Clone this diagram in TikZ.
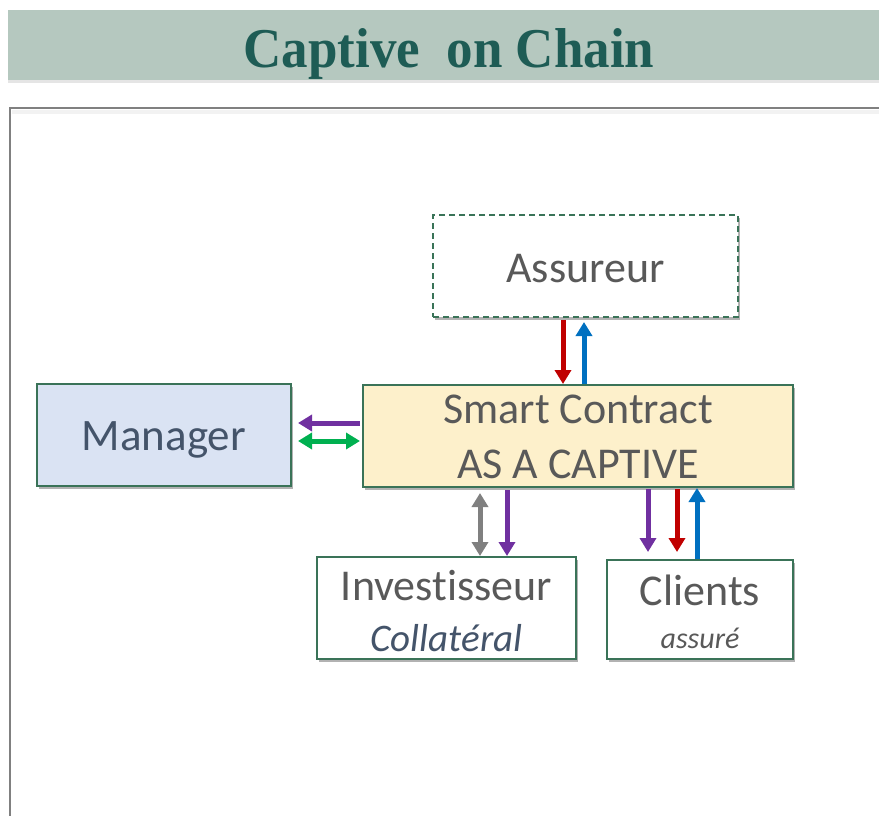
\documentclass[tikz,border=0pt]{standalone}
\usepackage{fontspec}
\setmainfont{Carlito}[Ligatures=CommonOff]
\newfontfamily\titlefont{Liberation Serif}
\usetikzlibrary{arrows.meta,shadows,calc}
\definecolor{band}{HTML}{B5C8BF}
\definecolor{titlec}{HTML}{1E5C55}
\definecolor{boxline}{HTML}{3A7358}
\definecolor{mgrfill}{HTML}{DAE3F3}
\definecolor{scfill}{HTML}{FDF0CB}
\definecolor{txtgray}{HTML}{595959}
\definecolor{txtblue}{HTML}{44546A}
\definecolor{cpurple}{HTML}{7030A0}
\definecolor{cgreen}{HTML}{00B050}
\definecolor{cred}{HTML}{C00000}
\definecolor{cblue}{HTML}{0070C0}
\definecolor{cgray}{HTML}{808080}
\tikzset{
  box/.style={draw=boxline, line width=2pt, fill=white, inner sep=0pt,
    drop shadow={shadow xshift=2pt, shadow yshift=-3pt, opacity=0.3, fill=black}},
  lbl/.style={anchor=base, text=txtgray, inner sep=0pt},
  arr/.style={line width=5pt, -{Triangle[length=14pt,width=16pt]}},
  arrboth/.style={line width=5pt, {Triangle[length=14pt,width=16pt]}-{Triangle[length=14pt,width=16pt]}},
}
\begin{document}
\begin{tikzpicture}[x=1pt,y=-1pt]
\useasboundingbox (0,0) rectangle (879,816);
\clip (0,0) rectangle (879,816);
% title band
\fill[black!10] (8,80) rectangle (890,83);
\fill[band] (8,10) rectangle (890,80);
\node[anchor=base, inner sep=0pt, text=titlec, font=\titlefont\bfseries\fontsize{53}{60}\selectfont] (title) at (449,67) {\scalebox{1}[1.06]{Captive\ \ on Chain}};
% frame
\fill[black!5] (12,110) rectangle (890,114);
\draw[color=black!50, line width=2pt] (890,108) -- (10,108) -- (10,830);
% boxes
\node[box, dashed, dash pattern=on 6pt off 4pt, minimum width=305pt, minimum height=102pt] (asr) at (585.5,266) {};
\node[box, fill=scfill, minimum width=430pt, minimum height=102pt] (sc) at (578,436) {};
\node[box, fill=mgrfill, minimum width=254pt, minimum height=102pt] (mgr) at (164,435) {};
\node[box, minimum width=259pt, minimum height=102pt] (inv) at (446.5,608) {};
\node[box, minimum width=186pt, minimum height=99pt] (cli) at (700,609.5) {};
% texts
\node[lbl, font=\fontsize{44}{50}\selectfont] (tasr) at (585.5,282) {Assureur};
\node[lbl, text=txtblue, font=\fontsize{45}{50}\selectfont] (tmgr) at (164,450) {Manager};
\node[lbl, font=\fontsize{44}{50}\selectfont] (tsc1) at (578,423) {Smart Contract};
\node[lbl, font=\fontsize{44}{50}\selectfont] (tsc2) at (578,478) {AS A CAPTIVE};
\node[lbl, font=\fontsize{44}{50}\selectfont] (tinv) at (446.5,600) {Investisseur};
\node[lbl, text=txtblue, font=\itshape\fontsize{39}{45}\selectfont] (tcol) at (446.5,651) {Collatéral};
\node[lbl, font=\fontsize{44}{50}\selectfont] (tcli) at (700,605) {Clients};
\node[lbl, font=\itshape\fontsize{30}{36}\selectfont] (tass) at (700,648) {assuré};
% connectors Assureur <-> Smart Contract
\draw[arr, cred] ($(asr.south)+(-22.5,2)$) -- ($(sc.north)+(-15,0)$);
\draw[arr, cblue, shorten >=4pt] ($(sc.north)+(6,0)$) -- ($(asr.south)+(-1.5,0)$);
% Manager <-> Smart Contract
\draw[arr, cpurple, shorten >=6pt] ($(sc.west)+(-2,-13)$) -- ($(mgr.east)+(0,-12)$);
\draw[arrboth, cgreen, shorten <=6pt, shorten >=2pt] ($(mgr.east)+(0,6)$) -- ($(sc.west)+(0,5)$);
% Smart Contract <-> Investisseur
\draw[arrboth, cgray, shorten <=5pt] ($(sc.south)+(-98,0)$) -- ($(inv.north)+(33.5,0)$);
\draw[arr, cpurple] ($(sc.south)+(-71,2)$) -- ($(inv.north)+(60.5,0)$);
% Smart Contract <-> Clients
\draw[arr, cpurple] ($(sc.south)+(70,1)$) -- ($(cli.north)+(-52,-7)$);
\draw[arr, cred] ($(sc.south)+(99,1)$) -- ($(cli.north)+(-23,-7)$);
\draw[arr, cblue] ($(cli.north)+(-3,0)$) -- ($(sc.south)+(119,0)$);
\end{tikzpicture}
\end{document}
